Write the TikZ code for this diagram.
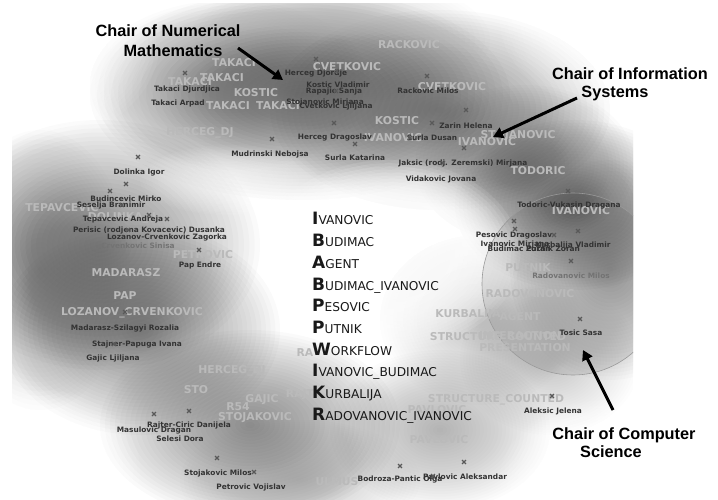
\documentclass[tikz,border=0pt]{standalone}
\usepackage{fontspec}
\setmainfont{DejaVu Sans}
\newfontfamily\chairfont{Liberation Sans}
\usepackage{tikz}
\usetikzlibrary{arrows.meta}

% soft blob: a stack of faint ellipses
\newcommand{\haze}[6][black]{%
  \pgfmathsetmacro\hazeop{1-(1-#6)^(1/30)}%
  \foreach \k in {1,...,30}
    \fill[#1,opacity=\hazeop] (#2,#3) ellipse[x radius={#4*\k/30},y radius={#5*\k/30}];}

\tikzset{
  person/.style={font=\fontsize{7.4}{8}\selectfont\bfseries,text=black!80,inner sep=0pt},
  tag/.style={font=\fontsize{10.8}{12}\selectfont\bfseries,text=black!27,inner sep=0pt},
  chair/.style={font=\chairfont\fontsize{16.3}{19}\selectfont\bfseries,anchor=base,inner sep=0pt},
  keyword/.style={font=\fontsize{12.2}{14}\selectfont,text=black!90,anchor=base west,inner sep=0pt},
  bigarrow/.style={line width=3pt,-{Triangle[length=10pt,width=11pt]}},
  cross/.pic={\draw[black!65,line width=1.1pt] (-1.9,-1.9) -- (1.9,1.9) (-1.9,1.9) -- (1.9,-1.9);}
}

\begin{document}
\begin{tikzpicture}[x=1pt,y=-1pt]
  \useasboundingbox (0,0) rectangle (718,500);

  % density map
  \begin{scope}
    \clip (12,4) rectangle (633,500);
    \haze{300}{95}{210}{105}{0.45}
    \haze{440}{110}{170}{100}{0.42}
    \haze{230}{85}{140}{85}{0.3}
    \haze{525}{165}{110}{80}{0.35}
    \haze{340}{40}{150}{65}{0.25}
    \haze{100}{245}{160}{125}{0.48}
    \haze{140}{330}{140}{105}{0.48}
    \haze{40}{270}{90}{140}{0.3}
    \haze{250}{425}{150}{95}{0.48}
    \haze{300}{480}{120}{60}{0.25}
    \haze{440}{430}{110}{80}{0.3}
    \haze{575}{205}{120}{85}{0.42}
    \haze{610}{270}{100}{110}{0.38}
    \haze{480}{320}{100}{85}{0.25}
    \haze{550}{360}{90}{75}{0.2}
    \haze[white]{390}{255}{130}{95}{0.95}
    \haze[white]{230}{180}{90}{35}{0.6}
    \haze[white]{40}{470}{100}{80}{0.8}
    \haze[white]{610}{480}{110}{80}{0.8}
    \haze[white]{40}{40}{120}{100}{0.8}
    \haze[white]{620}{20}{120}{90}{0.8}
    \fill[black,opacity=0.07] (573,284) circle[radius=91];
    \draw[black!40,line width=0.6pt] (573,284) circle[radius=91];
  \end{scope}

  % cluster labels
  \foreach \x/\y/\t [count=\i] in {234/63/TAKACI,190/82/TAKACI,222/78/TAKACI,256/93/KOSTIC,
      228/106/TAKACI,278/106/TAKACI,200/133/HERCEG\_DJ,347/67/CVETKOVIC,409/45/RACKOVIC,
      452/87/CVETKOVIC,397/121/KOSTIC,393/138/IVANOVIC,487/142/IVANOVIC,518/136/STOJANOVIC,
      538/171/TODORIC,581/211/IVANOVIC,528/268/PUTNIK,530/294/RADOVANOVIC,468/315/KURBALIJA,
      520/317/AGENT,498/338/STRUCTURE\_COUNTED,520/336/INTERACTION,525/348/PRESENTATION,
      62/208/TEPAVCEVIC,122/218/DOLINKA\_IJ,203/255/PETROVIC,126/273/MADARASZ,125/296/PAP,
      132/313/LOZANOV\_CRVENKOVIC,232/371/HERCEG\_DJ,196/390/STO,305/353/RA,300/395/RAJT,
      262/400/GAJIC,238/407/R54,255/418/STOJAKOVIC,496/400/STRUCTURE\_COUNTED,
      437/410/PAVLOVIC,439/440/PAVLOVIC,337/482/ULMUS}
    \node[tag] (t\i) at (\x,\y) {\t};

  % authors
  \foreach \x/\y/\t [count=\i] in {316/73/Herceg Djordje,338/85/Kostic Vladimir,334/91/Rapajic Sanja,
      325/102/Stojanovic Mirjana,336/106/Cvetkovic Ljiljana,187/89/Takaci Djurdjica,
      178/103/Takaci Arpad,428/91/Rackovic Milos,466/126/Zarin Helena,335/137/Herceg Dragoslav,
      432/138/Surla Dusan,270/154/Mudrinski Nebojsa,355/158/Surla Katarina,
      463/163/Jaksic (rodj. Zeremski) Mirjana,441/179/Vidakovic Jovana,139/172/Dolinka Igor,
      126/199/Budincevic Mirko,111/205/Seselja Branimir,123/219/Tepavcevic Andreja,
      149/230/Perisic (rodjena Kovacevic) Dusanka,167/237/Lozanov-Crvenkovic Zagorka,
      200/265/Pap Endre,569/205/Todoric-Vukasin Dragana,514/235/Pesovic Dragoslav,
      515/244/Ivanovic Mirjana,573/245/Kurbalija Vladimir,519/249/Budimac Zoran,
      553/249/Putnik Zoran,581/333/Tosic Sasa,125/328/Madarasz-Szilagyi Rozalia,
      137/344/Stajner-Papuga Ivana,113/358/Gajic Ljiljana,553/411/Aleksic Jelena,
      189/425/Rajter-Ciric Danijela,154/430/Masulovic Dragan,180/439/Selesi Dora,
      218/473/Stojakovic Milos,251/487/Petrovic Vojislav,400/479/Bodroza-Pantic Olga,
      465/477/Pavlovic Aleksandar}
    \node[person] (p\i) at (\x,\y) {\t};
  \node[person,text=black!55] (sinisa) at (138,246) {Crvenkovic Sinisa};
  \node[person,text=black!55] (milos) at (571,276) {Radovanovic Milos};

  \foreach \x/\y in {316/59,337/71,185/73,272/139,138/157,334/123,355/144,427/76,432/123,
      466/110,464/148,443/163,336/91,410/138,126/184,110/191,122/205,149/215,167/219,
      128/230,199/250,125/312,114/344,154/414,189/411,217/458,254/472,400/466,464/462,
      433/476,552/396,568/191,514/221,515/229,578/231,554/235,571/261,580/319}
    \pic at (\x,\y) {cross};

  % topic list
  \foreach \a/\b [count=\i] in {I/VANOVIC,B/UDIMAC,A/GENT,B/UDIMAC\_IVANOVIC,P/ESOVIC,
      P/UTNIK,W/ORKFLOW,I/VANOVIC\_BUDIMAC,K/URBALIJA,R/ADOVANOVIC\_IVANOVIC}
    \node[keyword] (k\i) at (312,{225+21.7*(\i-1)}) {{\fontsize{17}{19}\selectfont\bfseries\a}\b};

  % chairs
  \node[chair] (num1) at (168,37) {Chair of Numerical};
  \node[chair] (num2) at (173,57) {Mathematics};
  \node[chair] (inf1) at (630,80) {Chair of Information};
  \node[chair] (inf2) at (615,98) {Systems};
  \node[chair] (cs1) at (624,439) {Chair of Computer};
  \node[chair] (cs2) at (611,457) {Science};

  \coordinate (numtail) at (238,48);
  \coordinate (numtip) at (283,80);
  \coordinate (inftail) at (577,98);
  \coordinate (inftip) at (493,137);
  \coordinate (cstail) at (613,410);
  \coordinate (cstip) at (583,350);
  \draw[bigarrow] (numtail) -- (numtip);
  \draw[bigarrow] (inftail) -- (inftip);
  \draw[bigarrow] (cstail) -- (cstip);
\end{tikzpicture}
\end{document}
